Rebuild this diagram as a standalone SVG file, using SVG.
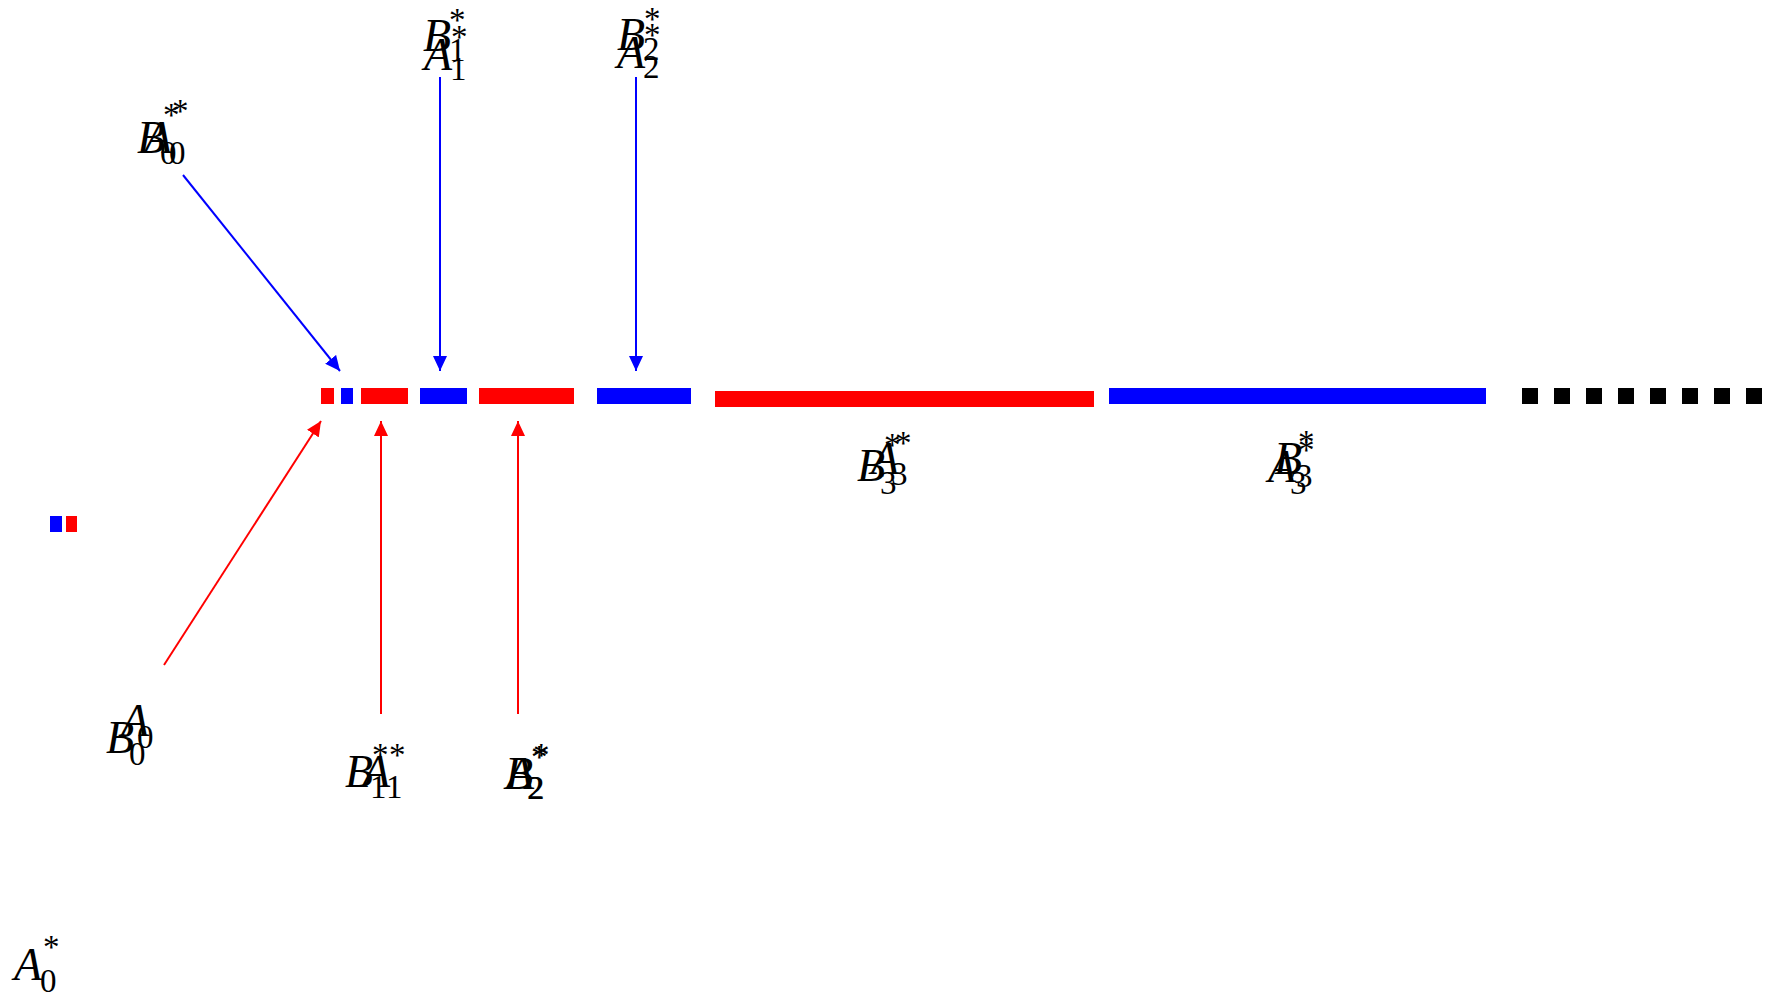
<svg xmlns="http://www.w3.org/2000/svg" width="1775" height="993" viewBox="0 0 1775 993">
<style>
.m{font-family:"Liberation Serif","Times New Roman",serif;font-style:italic;font-size:46px;fill:#000}
.s{font-family:"Liberation Serif","Times New Roman",serif;font-size:33px;fill:#000}
.blue{stroke:#0000ff;stroke-width:2;fill:none}
.red{stroke:#ff0000;stroke-width:2;fill:none}
</style>
<defs>
<marker id="ab" markerUnits="userSpaceOnUse" markerWidth="16" markerHeight="14" refX="15" refY="7" orient="auto"><path d="M0,0 L15,7 L0,14 Z" fill="#0000ff"/></marker>
<marker id="ar" markerUnits="userSpaceOnUse" markerWidth="16" markerHeight="14" refX="15" refY="7" orient="auto"><path d="M0,0 L15,7 L0,14 Z" fill="#ff0000"/></marker>
</defs>
<rect width="1775" height="993" fill="#fff"/>
<g id="bars">
<rect x="321" y="388" width="13" height="16" fill="#ff0000"/>
<rect x="341" y="388" width="12" height="16" fill="#0000ff"/>
<rect x="361" y="388" width="47" height="16" fill="#ff0000"/>
<rect x="420" y="388" width="47" height="16" fill="#0000ff"/>
<rect x="479" y="388" width="95" height="16" fill="#ff0000"/>
<rect x="597" y="388" width="94" height="16" fill="#0000ff"/>
<rect x="715" y="391" width="379" height="16" fill="#ff0000"/>
<rect x="1109" y="388" width="377" height="16" fill="#0000ff"/>
</g>
<g id="dots" fill="#000">
<rect x="1522" y="388" width="16" height="16"/>
<rect x="1554" y="388" width="16" height="16"/>
<rect x="1586" y="388" width="16" height="16"/>
<rect x="1618" y="388" width="16" height="16"/>
<rect x="1650" y="388" width="16" height="16"/>
<rect x="1682" y="388" width="16" height="16"/>
<rect x="1714" y="388" width="16" height="16"/>
<rect x="1746" y="388" width="16" height="16"/>
</g>
<g id="legend">
<rect x="50" y="516" width="12" height="16" fill="#0000ff"/>
<rect x="66" y="516" width="11" height="16" fill="#ff0000"/>
</g>
<g id="connectors">
<line class="blue" x1="183" y1="175" x2="340" y2="371" marker-end="url(#ab)"/>
<line class="blue" x1="440" y1="77" x2="440" y2="371" marker-end="url(#ab)"/>
<line class="blue" x1="636" y1="77" x2="636" y2="371" marker-end="url(#ab)"/>
<line class="red" x1="164" y1="665" x2="321" y2="421" marker-end="url(#ar)"/>
<line class="red" x1="381" y1="714" x2="381" y2="421" marker-end="url(#ar)"/>
<line class="red" x1="518" y1="714" x2="518" y2="421" marker-end="url(#ar)"/>
</g>
<g id="label-top1">
<text class="m" x="423" y="51">B</text><text class="s" x="449" y="61">1</text><text class="s" x="449" y="31">*</text>
<text class="m" x="424" y="70">A</text><text class="s" x="450" y="80">1</text><text class="s" x="451" y="48">*</text>
</g>
<g id="label-top2">
<text class="m" x="617" y="50">B</text><text class="s" x="643" y="60">2</text><text class="s" x="644" y="30">*</text>
<text class="m" x="617" y="68">A</text><text class="s" x="643" y="78">2</text><text class="s" x="644" y="46">*</text>
</g>
<g id="label-topleft">
<text class="m" x="137" y="153">B</text><text class="s" x="160" y="164">0</text><text class="s" x="163" y="126">*</text>
<text class="m" x="144" y="153">A</text><text class="s" x="169" y="164">0</text><text class="s" x="172" y="122">*</text>
</g>
<g id="label-bottomleft">
<text class="m" x="106" y="753">B</text><text class="s" x="129" y="765">0</text>
<text class="m" x="121" y="736">A</text><text class="s" x="137" y="748">0</text>
</g>
<g id="label-bottom1">
<text class="m" x="345" y="787">B</text><text class="s" x="370" y="798">1</text><text class="s" x="372" y="766">*</text>
<text class="m" x="362" y="787">A</text><text class="s" x="386" y="798">1</text><text class="s" x="389" y="766">*</text>
</g>
<g id="label-bottom2">
<text class="m" x="505" y="789">B</text><text class="s" x="527" y="799">2</text><text class="s" x="531" y="768">*</text>
<text class="m" x="506" y="789">A</text><text class="s" x="528" y="799">2</text><text class="s" x="533" y="766">*</text>
</g>
<g id="label-mid1">
<text class="m" x="857" y="481">B</text><text class="s" x="880" y="494">3</text><text class="s" x="884" y="456">*</text>
<text class="m" x="871" y="474">A</text><text class="s" x="891" y="485">3</text><text class="s" x="895" y="454">*</text>
</g>
<g id="label-mid2">
<text class="m" x="1274" y="474">B</text><text class="s" x="1296" y="487">3</text><text class="s" x="1298" y="453">*</text>
<text class="m" x="1268" y="482">A</text><text class="s" x="1290" y="494">3</text><text class="s" x="1298" y="461">*</text>
</g>
<g id="label-a0">
<text class="m" x="14" y="980">A</text><text class="s" x="40" y="992">0</text><text class="s" x="43" y="958">*</text>
</g>
</svg>
